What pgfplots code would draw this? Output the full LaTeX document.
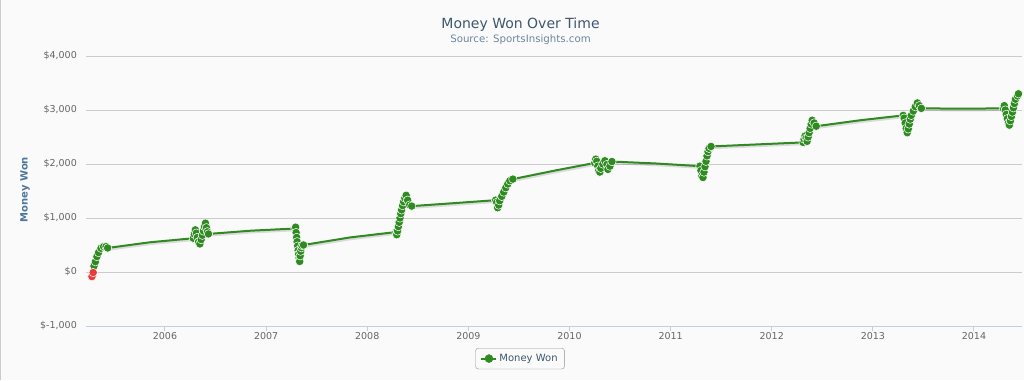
\documentclass[border=0pt]{standalone}
\usepackage{pgfplots}
\pgfplotsset{compat=1.18}
\usepackage{pgfplotstable}
\usepackage{fontspec}
\setmainfont{DejaVu Sans}
\definecolor{bgc}{RGB}{250,250,250}
\definecolor{mgreen}{RGB}{47,139,33}
\definecolor{mred}{RGB}{232,60,60}
\definecolor{titlec}{RGB}{62,87,111}
\definecolor{subc}{RGB}{109,134,159}
\definecolor{ytitc}{RGB}{77,117,158}
\definecolor{tickc}{RGB}{102,102,102}
\definecolor{axisc}{RGB}{192,208,224}
\definecolor{gridc}{RGB}{204,204,204}
\definecolor{legc}{RGB}{144,144,144}

\pgfplotstableread{
d v m
2005.278 -85 1
2005.290 -10 1
2005.298 110 1
2005.312 190 1
2005.327 285 1
2005.343 360 1
2005.367 440 1
2005.393 470 1
2005.417 470 1
2005.433 445 1
2005.85 550 0
2006.280 625 1
2006.290 700 1
2006.300 780 1
2006.310 720 1
2006.320 640 1
2006.333 560 1
2006.345 520 1
2006.358 600 1
2006.370 680 1
2006.380 760 1
2006.390 840 1
2006.400 905 1
2006.410 820 1
2006.420 745 1
2006.430 705 1
2006.85 765 0
2007.285 805 1
2007.292 830 1
2007.297 730 1
2007.302 640 1
2007.307 560 1
2007.312 480 1
2007.317 400 1
2007.322 330 1
2007.327 260 1
2007.332 195 1
2007.337 300 1
2007.342 385 1
2007.348 450 1
2007.355 490 1
2007.370 500 1
2007.83 640 0
2008.285 740 1
2008.292 690 1
2008.300 760 1
2008.308 840 1
2008.316 920 1
2008.324 1000 1
2008.332 1080 1
2008.340 1150 1
2008.350 1230 1
2008.360 1300 1
2008.372 1370 1
2008.385 1420 1
2008.400 1330 1
2008.420 1240 1
2008.440 1220 1
2008.82 1270 0
2009.270 1330 1
2009.280 1290 1
2009.290 1190 1
2009.300 1240 1
2009.310 1320 1
2009.330 1400 1
2009.350 1480 1
2009.370 1560 1
2009.390 1630 1
2009.410 1690 1
2009.440 1720 1
2009.86 1880 0
2010.250 2020 1
2010.260 2090 1
2010.270 2050 1
2010.280 1960 1
2010.290 1880 1
2010.300 1850 1
2010.310 1920 1
2010.330 2000 1
2010.350 2060 1
2010.370 1990 1
2010.380 1900 1
2010.400 1960 1
2010.420 2045 1
2010.85 2010 0
2011.290 1960 1
2011.300 1880 1
2011.310 1780 1
2011.320 1750 1
2011.330 1850 1
2011.340 1950 1
2011.350 2050 1
2011.360 2150 1
2011.370 2230 1
2011.380 2290 1
2011.400 2325 1
2011.885 2365 0
2012.310 2400 1
2012.320 2460 1
2012.330 2520 1
2012.340 2480 1
2012.350 2420 1
2012.360 2500 1
2012.370 2580 1
2012.380 2660 1
2012.390 2740 1
2012.400 2810 1
2012.420 2760 1
2012.440 2700 1
2012.875 2810 0
2013.300 2900 1
2013.310 2850 1
2013.320 2760 1
2013.330 2660 1
2013.340 2580 1
2013.350 2650 1
2013.360 2740 1
2013.370 2830 1
2013.380 2900 1
2013.400 2980 1
2013.420 3060 1
2013.440 3130 1
2013.460 3080 1
2013.480 3030 1
2013.90 3025 0
2014.290 3030 1
2014.300 3080 1
2014.310 3000 1
2014.320 2920 1
2014.330 2840 1
2014.340 2760 1
2014.350 2720 1
2014.360 2800 1
2014.370 2880 1
2014.380 2960 1
2014.390 3040 1
2014.400 3120 1
2014.410 3200 1
2014.430 3260 1
2014.440 3300 1
}\money

\begin{document}
\begin{tikzpicture}
\fill[bgc] (0,0) rectangle (1024pt,380pt);
\draw[gridc, line width=1pt] (0.5pt,0) -- (0.5pt,380pt);
\node[font=\fontsize{14}{17}\selectfont, text=titlec, anchor=base] at (520.5pt,351.7pt) {Money Won Over Time};
\node[font=\fontsize{10.2}{12}\selectfont, text=subc, anchor=base] at (520.5pt,337.7pt) {Source: SportsInsights.com};
\node[font=\bfseries\fontsize{10}{12}\selectfont, text=ytitc, rotate=90] at (25pt,190.3pt) {Money Won};
\begin{axis}[
  at={(86pt,54pt)}, anchor=south west,
  scale only axis, width=936pt, height=270pt,
  xmin=2005.219, xmax=2014.475, ymin=-1000, ymax=4000,
  axis x line*=bottom, axis y line*=left,
  x axis line style={draw=axisc, line width=1pt, -},
  y axis line style={draw=none},
  xtick={2006,2007,2008,2009,2010,2011,2012,2013,2014},
  xticklabels={2006,2007,2008,2009,2010,2011,2012,2013,2014},
  ytick={-1000,0,1000,2000,3000,4000},
  yticklabels={{\$-1,000},{\$0},{\$1,000},{\$2,000},{\$3,000},{\$4,000}},
  ymajorgrids, grid style={draw=gridc, line width=0.8pt},
  tick align=outside, major tick length=5pt,
  xtick style={draw=axisc, line width=1pt},
  ytick style={draw=none},
  ticklabel style={font=\fontsize{9.5}{11}\selectfont, text=tickc, inner sep=0pt},
  yticklabel style={xshift=-4pt},
  xticklabel style={yshift=-1pt},
  clip=false,
  legend style={at={(0.4637,-0.0815)}, anchor=north, draw=legc, rounded corners=3pt,
    fill=none, font=\fontsize{10}{12}\selectfont, text=titlec, inner xsep=5pt, inner ysep=4pt},
  legend image code/.code={
    \draw[mgreen, line width=2pt] (0pt,0pt) -- (15pt,0pt);
    \fill[mgreen] (7.5pt,0pt) circle (4pt);
  },
]
\addplot[draw=black, opacity=0.12, line width=3.5pt, line join=round, transform canvas={xshift=1pt,yshift=-1pt}, forget plot] table[x=d, y=v] {\money};
\addplot[draw=mgreen, line width=2pt, line join=round, forget plot] table[x=d, y=v] {\money};
\addplot[only marks, mark=*, mark size=4.2pt, mark options={fill=mgreen, draw=white, line width=0.5pt},
  restrict expr to domain={\thisrow{m}}{0.5:1.5}] table[x=d, y=v] {\money};
\addlegendentry{Money Won}
\addplot[only marks, mark=*, mark size=4.2pt, mark options={fill=mred, draw=white, line width=0.5pt},
  restrict y to domain=-1000:-1, forget plot] table[x=d, y=v] {\money};
\end{axis}
\pgfresetboundingbox
\useasboundingbox (0,0) rectangle (1024pt,380pt);
\end{tikzpicture}
\end{document}
